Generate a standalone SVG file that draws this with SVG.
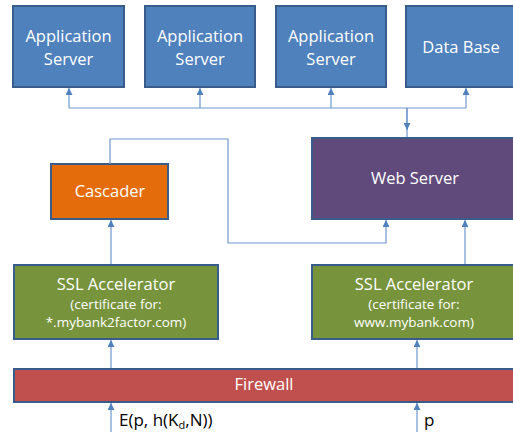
<svg xmlns="http://www.w3.org/2000/svg" width="513" height="432" viewBox="0 0 513 432">
<style>
.box{stroke:#385D8A;stroke-width:2}
.app{fill:#4F81BD}
.t{font-family:"Open Sans","Liberation Sans",sans-serif;fill:#ffffff;text-anchor:middle;font-size:16.5px}
.s{font-size:13.5px}
.c{fill:none;stroke:#6E97CF;stroke-width:1.2}
.lbl{font-family:"Open Sans","Liberation Sans",sans-serif;fill:#000;font-size:17px}
</style>
<defs>
<marker id="ah" viewBox="0 0 8 8" refX="8" refY="4" markerWidth="7" markerHeight="7" markerUnits="userSpaceOnUse" orient="auto">
<path d="M0,0 L8,4 L0,8 z" fill="#4F81BD"/>
</marker>
</defs>
<g id="app1"><rect class="box app" x="13" y="6" width="111" height="81"/><text class="t" x="68.5" y="42">Application</text><text class="t" x="68.5" y="65">Server</text></g>
<g id="app2"><rect class="box app" x="145" y="6" width="110" height="81"/><text class="t" x="200" y="42">Application</text><text class="t" x="200" y="65">Server</text></g>
<g id="app3"><rect class="box app" x="276" y="6" width="110" height="81"/><text class="t" x="331" y="42">Application</text><text class="t" x="331" y="65">Server</text></g>
<g id="db"><rect class="box app" x="406" y="6" width="112" height="81"/><text class="t" x="461" y="53">Data Base</text></g>
<g id="web"><rect class="box" fill="#604A7B" x="312" y="138" width="206" height="81"/><text class="t" x="415" y="184">Web Server</text></g>
<g id="cascader"><rect class="box" fill="#E46C0A" x="51" y="164" width="117" height="55"/><text class="t" x="110" y="197">Cascader</text></g>
<g id="ssl1"><rect class="box" fill="#77933C" x="14" y="265" width="204" height="74"/><text class="t" x="116" y="290">SSL Accelerator</text><text class="t s" x="116" y="309">(certificate for:</text><text class="t s" x="116" y="327">*.mybank2factor.com)</text></g>
<g id="ssl2"><rect class="box" fill="#77933C" x="312" y="265" width="206" height="74"/><text class="t" x="414" y="290">SSL Accelerator</text><text class="t s" x="414" y="309">(certificate for:</text><text class="t s" x="414" y="327">www.mybank.com)</text></g>
<g id="firewall"><rect class="box" fill="#C0504D" x="14" y="369" width="504" height="33"/><text class="t" x="264" y="390">Firewall</text></g>
<g id="connectors">
<polyline class="c" points="407,137 407,108"/>
<path class="c" d="M407,108 L407,130" marker-end="url(#ah)"/>
<polyline class="c" points="69,108 466,108"/>
<path class="c" d="M69,108 L69,88" marker-end="url(#ah)"/>
<path class="c" d="M200,108 L200,88" marker-end="url(#ah)"/>
<path class="c" d="M331,108 L331,88" marker-end="url(#ah)"/>
<path class="c" d="M466,108 L466,88" marker-end="url(#ah)"/>
<path class="c" d="M110,164 L110,139 L228,139 L228,243 L386,243 L386,220" marker-end="url(#ah)"/>
<path class="c" d="M111,264 L111,220" marker-end="url(#ah)"/>
<path class="c" d="M465,264 L465,220" marker-end="url(#ah)"/>
<path class="c" d="M111,368 L111,340" marker-end="url(#ah)"/>
<path class="c" d="M417,368 L417,340" marker-end="url(#ah)"/>
<path class="c" d="M111,432 L111,403" marker-end="url(#ah)"/>
<path class="c" d="M417,432 L417,403" marker-end="url(#ah)"/>
</g>
<text class="lbl" x="119" y="426">E(p, h(K<tspan font-size="11" dy="2.5">d</tspan><tspan dy="-2.5">,N))</tspan></text>
<text class="lbl" x="424" y="426">p</text>
</svg>
